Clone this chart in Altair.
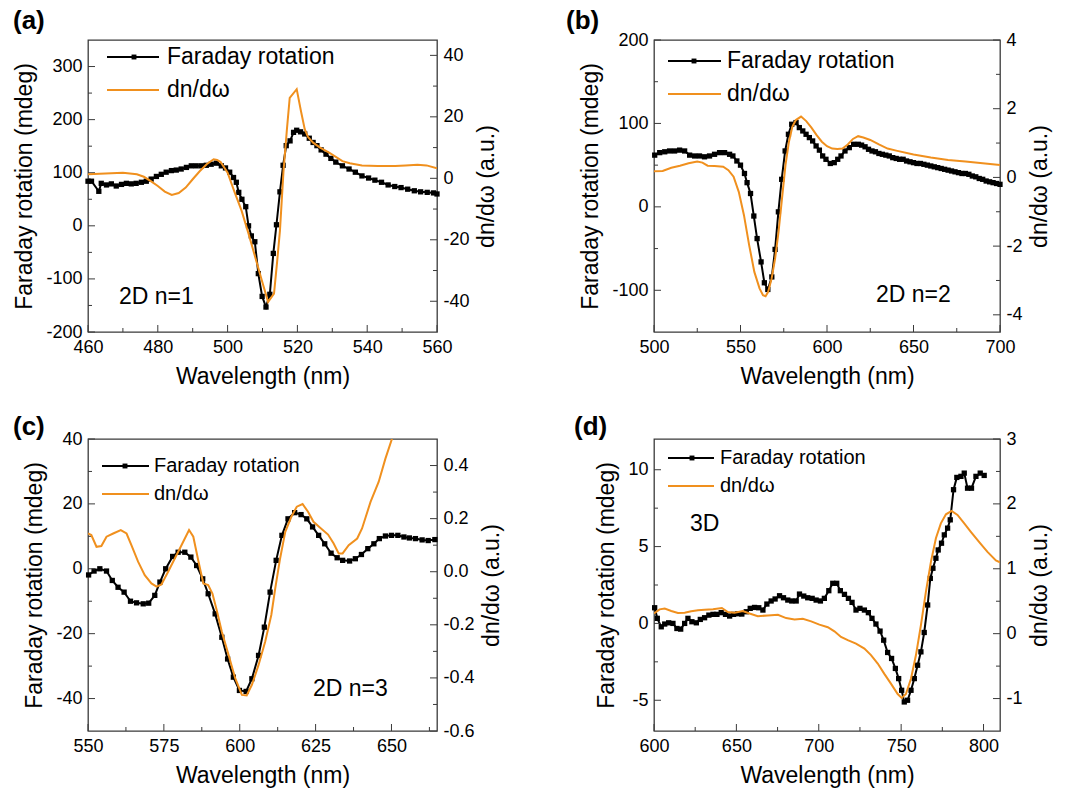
import altair as alt
import pandas as pd

FONT = "Liberation Sans"
ORANGE = "#F0901E"
FRAME = "#3a3a3a"

# ---------------- panel (a) ----------------
a_far_x = [460, 461, 463.1, 463.8, 465.3, 466.7, 468.1, 469.6, 471, 472.4,
           473.8, 475.3, 476.7, 478.1, 479.6, 481, 482.4, 483.9, 485.3, 486.7,
           488.2, 489.6, 491, 492.5, 493.9, 495.3, 496.8, 498.2, 499.4, 500.6,
           501.7, 502.5, 503.2, 504.1, 505.2, 506, 506.8, 507.8, 508.8, 509.9,
           511, 512.1, 513.1, 514, 515, 515.9, 516.8, 517.9, 518.9, 519.8,
           520.9, 522.1, 523.4, 524.5, 525.6, 526.8, 528.2, 529.6, 531, 532.9,
           534.8, 536.6, 538.5, 540.4, 542.2, 544.1, 546, 547.9, 549.7, 551.6,
           553.5, 555.3, 557.2, 559, 560]
a_far_y = [84, 84, 65, 80, 77, 79, 75, 78, 80, 79,
           80, 82, 84, 88, 93, 97, 101, 104, 105, 107,
           110, 113, 113, 113, 114, 116, 118, 113, 109, 101,
           91, 82, 63, 50, 36, 0, -19, -30, -90, -133,
           -153, -129, -52, 2, 64, 114, 151, 160, 176, 180,
           177, 173, 165, 157, 151, 143, 135, 127, 120, 113,
           107, 101, 94, 90, 86, 82, 77, 74, 72, 69,
           66, 64, 63, 62, 60]
a_dn_x = [460, 465, 470, 474, 476, 478, 480, 482, 484, 486,
          488, 490, 492, 494, 496, 497, 498, 500, 502, 504,
          506, 508, 510, 511.6, 513.3, 514.2, 515, 516, 517, 517.8,
          519.8, 521, 522.1, 523, 524.5, 526.5, 529.2, 532.9, 535, 538.5,
          543, 548, 551, 554.4, 557, 560]
a_dn_y = [1.3, 1.6, 1.8, 1.3, 0.5, -0.9, -2.5, -4.3, -5.4, -4.8,
          -3.0, -0.3, 2.3, 4.6, 6.2, 6.0, 5.3, 1.8, -4.5, -10.5,
          -18, -26, -34, -40.2, -37.5, -27, -17, 2, 16, 26.2,
          29, 22, 16, 13.5, 11.6, 10, 8.3, 5.6, 4.9, 4.2,
          4.0, 4.0, 4.2, 4.4, 4.2, 3.3]

# ---------------- panel (b) ----------------
b_far_x = [500.4, 503.3, 506.2, 509, 511.9, 514.8, 517.7, 520.6, 523.5, 526.3,
           529.2, 532.1, 535, 537.9, 540.8, 543.7, 545.6, 547.9, 550, 552.3,
           553.8, 555.8, 557.7, 559.6, 561.9, 563.8, 565.8, 568.1, 570, 571.9,
           573.8, 575.8, 577.7, 579.6, 582.1, 584, 586, 587.9, 589.8, 591.7,
           593.7, 595.6, 597.5, 599.4, 601.9, 604.2, 606.2, 608.1, 610.4, 612.9,
           615.4, 618.1, 620, 622, 624, 626, 628, 630, 632, 634,
           636, 638, 640, 642, 644, 646, 648, 650, 652, 654,
           656, 658, 660, 662, 664, 666, 668, 670, 672, 674,
           676, 678, 680, 682, 684, 686, 688, 690, 692, 694,
           696, 698, 700]
b_far_y = [62, 65, 66, 67, 67, 68, 67, 62, 61, 61,
           60, 61, 63, 65, 65, 63, 61, 55, 50, 40,
           29, 16, -11, -38, -66, -91, -99, -84, -51, -6,
           33, 67, 87, 99, 101, 95, 91, 87, 83, 79,
           73, 68, 61, 57, 52, 53, 57, 61, 67, 71,
           75, 75, 74, 72, 69, 67, 66, 64, 63, 62,
           61, 59, 58, 57, 57, 55, 54, 53, 52, 52,
           51, 50, 49, 48, 47, 46, 45, 44, 43, 42,
           41, 40, 40, 39, 37, 36, 34, 33, 31, 30,
           29, 28, 27]
b_dn_x = [500, 505, 510, 515, 520, 525, 528, 531, 535, 540,
          543, 546, 549, 552, 555, 558, 561, 563, 564.5, 566,
          568, 570, 572, 574, 576, 578, 580, 582, 585, 588,
          591, 594, 597, 600, 603, 606, 609, 612, 615, 618,
          621, 625, 630, 635, 640, 650, 660, 670, 680, 690,
          700]
b_dn_y = [0.18, 0.19, 0.28, 0.34, 0.41, 0.46, 0.43, 0.34, 0.33, 0.31,
          0.21, 0.02, -0.42, -1.1, -1.97, -2.75, -3.23, -3.43, -3.46, -3.33,
          -2.94, -2.36, -1.58, -0.61, 0.36, 1.04, 1.48, 1.67, 1.77, 1.64,
          1.45, 1.23, 1.04, 0.91, 0.84, 0.83, 0.84, 0.96, 1.12, 1.2,
          1.16, 1.09, 0.96, 0.84, 0.78, 0.67, 0.58, 0.51, 0.46, 0.41,
          0.36]

# ---------------- panel (c) ----------------
c_far_x = [550.2, 552, 553.9, 556.1, 558, 559.9, 561.9, 564, 566, 568.2,
           570, 572, 573.7, 575.6, 577.9, 579.7, 581.9, 583.9, 585.8, 587.8,
           589.6, 591.9, 594.1, 596, 597.9, 599.9, 602.1, 604, 606.2, 608.1,
           610, 612, 613.9, 615.9, 618.1, 620.2, 622.1, 624, 626, 628,
           630.1, 632.1, 633.9, 636.2, 638.1, 640.1, 642.2, 644.2, 646, 648,
           650, 652.1, 654.1, 655.9, 657.9, 660.1, 662.1, 664.3]
c_far_y = [-1.9, -0.7, 0, -0.7, -3.6, -5.7, -7.2, -10, -10.5, -10.8,
           -10.6, -8.2, -4.1, 0, 3.8, 5.1, 5.1, 3.6, 1, -3.1,
           -7.7, -13.9, -21.1, -27.8, -33.4, -37.5, -37.8, -33.9, -26.7, -18,
           -7.2, 2.6, 10.3, 15.4, 17.3, 16.7, 15.4, 12.9, 10.3, 7.7,
           4.8, 3.4, 2.6, 2.4, 3.1, 4.4, 6.2, 7.7, 9.3, 10.1,
           10.3, 10.3, 9.8, 9.5, 9.3, 8.9, 8.7, 9]
c_dn_x = [550, 551.1, 552.8, 554.4, 556.1, 558.3, 560.8, 562.7, 564.3, 566.5,
          568.7, 570.9, 572.6, 574.2, 576.4, 578.6, 580.8, 583.3, 584.7, 586.3,
          588, 589.6, 591, 592.4, 594.1, 596.3, 598.5, 600.7, 602.3, 604,
          606.2, 608.4, 610.4, 611.7, 613.3, 615, 617, 618.8, 620.7, 622.5,
          624.3, 626.5, 629.1, 630.9, 632.6, 633.9, 635.9, 638.7, 640.3, 643.1,
          645.8, 648, 650.2, 652]
c_dn_y = [0.144, 0.138, 0.094, 0.097, 0.132, 0.144, 0.157, 0.144, 0.1, 0.038,
          -0.013, -0.044, -0.056, -0.048, 0, 0.05, 0.1, 0.157, 0.132, 0.044,
          -0.044, -0.05, -0.082, -0.144, -0.226, -0.313, -0.401, -0.464, -0.466, -0.426,
          -0.351, -0.263, -0.163, -0.063, 0.05, 0.15, 0.207, 0.245, 0.255, 0.226,
          0.188, 0.166, 0.14, 0.107, 0.069, 0.069, 0.1, 0.125, 0.163, 0.263,
          0.339, 0.426, 0.502, 0.56]

# ---------------- panel (d) ----------------
d_far_x = [600.4, 602, 604.4, 606.5, 608.9, 611.5, 613.9, 616.2, 618.6, 620.6,
           623, 625.7, 628.1, 630.7, 633.3, 635.8, 638.2, 640.8, 643.4, 645.9,
           648.3, 650.9, 653.3, 656, 658.4, 661, 663.6, 666.1, 668.5, 671.1,
           673.5, 676.2, 678.6, 681.2, 683.6, 686.3, 688.3, 690.9, 693.3, 696,
           698.4, 701, 703.4, 706.1, 708.5, 710.9, 713.1, 715.6, 718, 720.2,
           722.6, 725, 727.7, 730.1, 732.3, 734.7, 737.2, 739.4, 741.8, 744.2,
           746.5, 748.5, 750.3, 751.9, 753.9, 756, 758, 760, 762, 764,
           766.1, 767.7, 769.3, 771.1, 772.5, 774.5, 776.2, 778.2, 779.8, 781.8,
           783.8, 786.3, 788.3, 790.3, 792.7, 795.4, 798, 800.4]
d_far_y = [1.02, 0.33, -0.22, -0.04, 0.04, 0, -0.33, -0.37, 0, 0.33,
           0.11, 0.04, 0.26, 0.37, 0.54, 0.59, 0.59, 0.7, 0.59, 0.48,
           0.59, 0.63, 0.61, 0.76, 0.98, 1.04, 1.02, 0.87, 1.26, 1.46,
           1.59, 1.8, 1.67, 1.52, 1.46, 1.46, 1.91, 1.78, 1.67, 1.63,
           1.52, 1.46, 1.63, 2.13, 2.61, 2.61, 2.13, 1.89, 1.63, 1.37,
           0.87, 0.98, 0.87, 0.7, 0.33, -0.04, -0.5, -1.09, -1.89, -2.28,
           -2.93, -3.59, -4.35, -5.11, -5.0, -4.35, -3.59, -2.72, -1.85, -0.59,
           1.2, 2.93, 3.59, 4.24, 4.78, 5.22, 5.76, 6.2, 6.74, 8.7,
           9.5, 9.57, 9.78, 8.8, 8.8, 9.57, 9.78, 9.63]
d_dn_x = [600, 603.4, 606.5, 610.5, 614.5, 618.6, 622.6, 626.7, 630.7, 635.8,
          641.2, 644.8, 648.9, 653.9, 658, 663, 669.1, 675.2, 680.2, 685.3,
          690.3, 695.4, 700.4, 705.5, 709.5, 713.5, 717.6, 722.6, 727.7, 731.7,
          735.8, 739.8, 743.8, 747.9, 750.3, 752.9, 756, 759, 762, 765,
          768.1, 771.1, 774.1, 777.2, 780.6, 784.2, 788.3, 792.3, 797.4, 802.4,
          807.5, 810]
d_dn_y = [0.31, 0.375, 0.386, 0.35, 0.32, 0.324, 0.344, 0.36, 0.37, 0.375,
          0.396, 0.334, 0.324, 0.35, 0.31, 0.27, 0.28, 0.29, 0.24, 0.22,
          0.23, 0.19, 0.14, 0.1, 0.036, -0.05, -0.1, -0.154, -0.23, -0.33,
          -0.46, -0.62, -0.77, -0.93, -0.99, -0.93, -0.69, -0.33, 0.13, 0.64,
          1.11, 1.47, 1.7, 1.84, 1.89, 1.83, 1.7, 1.57, 1.41, 1.26,
          1.13, 1.1]

PANELS = [
    dict(tag="(a)", note="2D n=1", far=(a_far_x, a_far_y), dn=(a_dn_x, a_dn_y),
         W=349, H=292, xdom=[460, 560], xmaj=[460, 480, 500, 520, 540, 560], xmin=[470, 490, 510, 530, 550],
         yldom=[-200, 350], ylmaj=[-200, -100, 0, 100, 200, 300], ylmin=[-150, -50, 50, 150, 250],
         yrdom=[-50, 45], yrmaj=[-40, -20, 0, 20, 40], yrmin=[-30, -10, 10, 30], yrfmt="",
         leg=dict(x0=19, x1=71, xm=46, xt=79, y1=17, y2=50, fs=23),
         notexy=(31, 257), tagxy=(-75, -11)),
    dict(tag="(b)", note="2D n=2", far=(b_far_x, b_far_y), dn=(b_dn_x, b_dn_y),
         W=346, H=292, xdom=[500, 700], xmaj=[500, 550, 600, 650, 700], xmin=[525, 575, 625, 675],
         yldom=[-150, 200], ylmaj=[-100, 0, 100, 200], ylmin=[-50, 50, 150],
         yrdom=[-4.5, 4], yrmaj=[-4, -2, 0, 2, 4], yrmin=[-3, -1, 1, 3], yrfmt="",
         leg=dict(x0=14, x1=67, xm=40, xt=73, y1=21, y2=54, fs=23),
         notexy=(222, 255), tagxy=(-88, -11)),
    dict(tag="(c)", note="2D n=3", far=(c_far_x, c_far_y), dn=(c_dn_x, c_dn_y),
         W=349, H=292, xdom=[550, 665], xmaj=[550, 575, 600, 625, 650], xmin=[562.5, 587.5, 612.5, 637.5, 662.5],
         yldom=[-50, 40], ylmaj=[-40, -20, 0, 20, 40], ylmin=[-30, -10, 10, 30],
         yrdom=[-0.6, 0.5], yrmaj=[-0.6, -0.4, -0.2, 0.0, 0.2, 0.4], yrmin=[-0.5, -0.3, -0.1, 0.1, 0.3], yrfmt=".1f",
         leg=dict(x0=14, x1=61, xm=37, xt=66, y1=27, y2=55, fs=20),
         notexy=(225, 250), tagxy=(-75, -4)),
    dict(tag="(d)", note="3D", far=(d_far_x, d_far_y), dn=(d_dn_x, d_dn_y),
         W=346, H=292, xdom=[600, 810], xmaj=[600, 650, 700, 750, 800], xmin=[625, 675, 725, 775],
         yldom=[-7, 12], ylmaj=[-5, 0, 5, 10], ylmin=[-2.5, 2.5, 7.5],
         yrdom=[-1.5, 3], yrmaj=[-1, 0, 1, 2, 3], yrmin=[-0.5, 0.5, 1.5, 2.5], yrfmt="",
         leg=dict(x0=14, x1=60, xm=38, xt=66, y1=19, y2=47, fs=20),
         notexy=(36, 85), tagxy=(-80, -4)),
]

MINUS_FIX = "replace(datum.label, '\u2212', '-')"
MAJ, MINR = 7, 4
LABEL_FS, TITLE_FS = 18, 23


def one(label):
    return pd.DataFrame({"t": [label]})


def axis_common():
    return dict(ticks=False, domain=False, grid=False, labelOverlap=False, labelFlush=False,
                labelExpr=MINUS_FIX, labelFont=FONT, titleFont=FONT, labelFontSize=LABEL_FS,
                titleFontSize=TITLE_FS, labelColor="black", titleColor="black",
                titleFontWeight="normal")


def make_panel(p):
    W, H = p["W"], p["H"]
    assert len(p["far"][0]) == len(p["far"][1])
    assert len(p["dn"][0]) == len(p["dn"][1])
    far = pd.DataFrame({"wl": p["far"][0], "far": p["far"][1]})
    dn = pd.DataFrame({"wl": p["dn"][0], "dn": p["dn"][1]})

    xs = alt.Scale(domain=p["xdom"], nice=False, zero=False)
    yls = alt.Scale(domain=p["yldom"], nice=False, zero=False)
    yrs = alt.Scale(domain=p["yrdom"], nice=False, zero=False)

    xaxis = alt.Axis(values=p["xmaj"], title="Wavelength (nm)", labelPadding=6, titlePadding=9,
                     **axis_common())
    ylaxis = alt.Axis(values=p["ylmaj"], title="Faraday rotation (mdeg)", orient="left",
                      labelPadding=6, titlePadding=9, **axis_common())
    rkw = dict(values=p["yrmaj"], title="dn/d\u03c9 (a.u.)", orient="right", labelPadding=6,
               titlePadding=6, titleAngle=270, titleBaseline="top", **axis_common())
    if p["yrfmt"]:
        rkw["format"] = p["yrfmt"]
    yraxis = alt.Axis(**rkw)

    X = lambda: alt.X("wl:Q", scale=xs, axis=xaxis)
    YL = lambda: alt.Y("far:Q", scale=yls, axis=ylaxis)
    YR = lambda: alt.Y("dn:Q", scale=yrs, axis=yraxis)

    far_line = alt.Chart(far).mark_line(
        color="black", strokeWidth=2,
        point=alt.OverlayMarkDef(shape="square", filled=True, size=28, color="black", opacity=1),
    ).encode(x=X(), y=YL())

    def xticks(vals, ln):
        return alt.Chart(pd.DataFrame({"wl": vals})).mark_rule(color=FRAME, strokeWidth=1).encode(
            x=X(), y=alt.value(H), y2=alt.value(H - ln))

    def ylticks(vals, ln):
        return alt.Chart(pd.DataFrame({"far": vals})).mark_rule(color=FRAME, strokeWidth=1).encode(
            y=YL(), x=alt.value(0), x2=alt.value(ln))

    def yrticks(vals, ln):
        return alt.Chart(pd.DataFrame({"dn": vals})).mark_rule(color=FRAME, strokeWidth=1).encode(
            y=YR(), x=alt.value(W), x2=alt.value(W - ln))

    lg = p["leg"]
    leg_far_line = alt.Chart(one("Faraday rotation")).mark_rule(color="black", strokeWidth=2).encode(
        x=alt.value(lg["x0"]), x2=alt.value(lg["x1"]), y=alt.value(lg["y1"]))
    leg_far_pt = alt.Chart(one("Faraday rotation")).mark_point(
        shape="square", filled=True, size=24, color="black", opacity=1).encode(
        x=alt.value(lg["xm"]), y=alt.value(lg["y1"]))
    leg_far_txt = alt.Chart(one("Faraday rotation")).mark_text(
        align="left", baseline="middle", font=FONT, fontSize=lg["fs"], color="black").encode(
        x=alt.value(lg["xt"]), y=alt.value(lg["y1"]), text="t:N")
    leg_dn_line = alt.Chart(one("dn/d\u03c9")).mark_rule(color=ORANGE, strokeWidth=2).encode(
        x=alt.value(lg["x0"]), x2=alt.value(lg["x1"]), y=alt.value(lg["y2"]))
    leg_dn_txt = alt.Chart(one("dn/d\u03c9")).mark_text(
        align="left", baseline="middle", font=FONT, fontSize=lg["fs"], color="black").encode(
        x=alt.value(lg["xt"]), y=alt.value(lg["y2"]), text="t:N")

    note = alt.Chart(one(p["note"])).mark_text(
        align="left", baseline="middle", font=FONT, fontSize=23, color="black").encode(
        x=alt.value(p["notexy"][0]), y=alt.value(p["notexy"][1]), text="t:N")
    tag = alt.Chart(one(p["tag"])).mark_text(
        align="left", baseline="alphabetic", font=FONT, fontSize=26, fontWeight="bold",
        color="black").encode(
        x=alt.value(p["tagxy"][0]), y=alt.value(p["tagxy"][1]), text="t:N")

    left = alt.layer(
        far_line,
        xticks(p["xmaj"], MAJ), xticks(p["xmin"], MINR),
        ylticks(p["ylmaj"], MAJ), ylticks(p["ylmin"], MINR),
        leg_far_line, leg_far_pt, leg_far_txt, leg_dn_line, leg_dn_txt, note, tag,
    )
    dn_line = alt.Chart(dn).mark_line(color=ORANGE, strokeWidth=2, clip=True).encode(x=X(), y=YR())
    right = alt.layer(dn_line, yrticks(p["yrmaj"], MAJ), yrticks(p["yrmin"], MINR))

    return alt.layer(left, right).resolve_scale(y="independent").properties(width=W, height=H)


charts = [make_panel(p) for p in PANELS]

chart = alt.concat(
    *charts, columns=2, spacing={"row": 107, "column": 217}, bounds="flush", align="all",
).resolve_scale(x="independent", y="independent").properties(
    padding={"left": 12, "top": 7, "right": 5, "bottom": 5},
    background="white",
).configure_view(
    stroke=FRAME, strokeWidth=1.3,
).configure_axis(
    labelFont=FONT, titleFont=FONT, labelFontSize=LABEL_FS, titleFontSize=TITLE_FS,
    labelColor="black", titleColor="black", titleFontWeight="normal",
)

chart.save("out.html", embed_options={"renderer": "svg", "actions": False})
